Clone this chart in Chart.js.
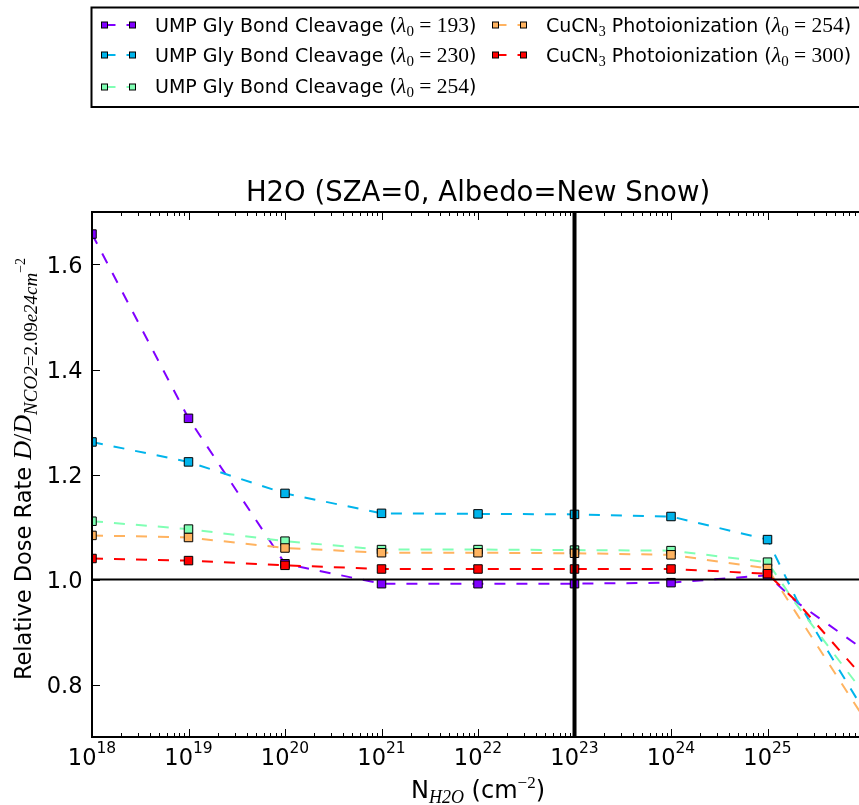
<!DOCTYPE html>
<html>
<head>
<meta charset="utf-8">
<title>H2O relative dose rate</title>
<script src="https://cdn.jsdelivr.net/npm/chart.js@4.4.1/dist/chart.umd.min.js"></script>
<style>
  body { margin: 0; background: #fff; overflow: hidden; }
  #plot { display: block; }
</style>
</head>
<body>
<canvas id="plot" width="859" height="805"></canvas>
<script>
// H2O column density (cm^-2) and dose rate relative to N_CO2 = 2.09e24
const columnH2O = [1e18, 1e19, 1e20, 1e21, 1e22, 1e23, 1e24, 1e25, 2e25, 1e26];
const umpGly193 = [1.658, 1.307, 1.030, 0.992, 0.992, 0.992, 0.994, 1.008, 0.957, 0.866];
const umpGly230 = [1.262, 1.224, 1.164, 1.126, 1.125, 1.124, 1.120, 1.076, 0.962, 0.750];
const umpGly254 = [1.111, 1.096, 1.073, 1.057, 1.057, 1.056, 1.055, 1.033, 0.952, 0.783];
const cucn3_254 = [1.084, 1.080, 1.060, 1.051, 1.051, 1.050, 1.047, 1.021, 0.935, 0.736];
const cucn3_300 = [1.040, 1.036, 1.027, 1.020, 1.020, 1.020, 1.020, 1.011, 0.958, 0.812];

const xTickExps = [18, 19, 20, 21, 22, 23, 24, 25];
const yTickVals = [0.8, 1.0, 1.2, 1.4, 1.6];

const seriesLabels = [
  ['UMP Gly Bond Cleavage', '', '193'],
  ['UMP Gly Bond Cleavage', '', '230'],
  ['UMP Gly Bond Cleavage', '', '254'],
  ['CuCN', '3', '254'],
  ['CuCN', '3', '300']
];
const seriesValues = [umpGly193, umpGly230, umpGly254, cucn3_254, cucn3_300];
const seriesColors = ['#8000ff', '#00b4eb', '#80ffb4', '#ffb360', '#ff0000'];

const SANS = "'DejaVu Sans'";
const SERIF = "'Liberation Serif'";
const DASH = [11, 11];

// markers only on the decade points
const markerRadii = columnH2O.map(v => (v <= 1e25 ? 6 : 0));

// draw a run of text pieces: [text, font, dy]
function textRun(ctx, parts, x, y, align) {
  let w = 0;
  parts.forEach(p => { ctx.font = p[1]; w += ctx.measureText(p[0]).width; });
  let cx = align === 'center' ? x - w / 2 : (align === 'right' ? x - w : x);
  parts.forEach(p => {
    ctx.font = p[1];
    ctx.fillText(p[0], cx, y + (p[2] || 0));
    cx += ctx.measureText(p[0]).width;
  });
  return w;
}

function seg(ctx, x0, y0, x1, y1) {
  ctx.beginPath();
  ctx.moveTo(x0, y0);
  ctx.lineTo(x1, y1);
  ctx.stroke();
}

function square(ctx, x, y, side, color) {
  ctx.fillStyle = color;
  ctx.fillRect(x - side / 2, y - side / 2, side, side);
  ctx.strokeStyle = '#000';
  ctx.lineWidth = 1;
  ctx.strokeRect(x - side / 2, y - side / 2, side, side);
}

const decorations = {
  id: 'decorations',
  afterDatasetsDraw(chart) {
    const { ctx, chartArea: a, scales: { x, y } } = chart;
    ctx.save();
    ctx.strokeStyle = '#000';
    ctx.fillStyle = '#000';
    ctx.setLineDash([]);

    // reference lines at 1.0 and 1e23
    ctx.lineWidth = 2;
    const y1 = y.getPixelForValue(1.0);
    seg(ctx, a.left, y1, a.right, y1);
    ctx.lineWidth = 4;
    const x23 = x.getPixelForValue(1e23);
    seg(ctx, x23, a.top, x23, a.bottom);

    // spines
    ctx.lineWidth = 2;
    seg(ctx, a.left, a.top - 1, a.left, a.bottom + 1);
    seg(ctx, a.left, a.top, a.right, a.top);
    seg(ctx, a.left, a.bottom, a.right, a.bottom);

    // x ticks, pointing inwards on top and bottom
    ctx.lineWidth = 1;
    xTickExps.forEach(e => {
      for (let m = 1; m <= 9; m++) {
        const v = m * Math.pow(10, e);
        if (v > x.max) break;
        const px = Math.round(x.getPixelForValue(v)) + 0.5;
        const len = m === 1 ? 8 : 4;
        seg(ctx, px, a.bottom, px, a.bottom - len);
        seg(ctx, px, a.top, px, a.top + len);
      }
    });
    // y ticks
    yTickVals.forEach(v => {
      const py = Math.round(y.getPixelForValue(v)) + 0.5;
      seg(ctx, a.left, py, a.left + 8, py);
    });

    // tick labels
    ctx.textAlign = 'left';
    ctx.textBaseline = 'alphabetic';
    xTickExps.forEach(e => {
      const px = x.getPixelForValue(Math.pow(10, e));
      textRun(ctx, [['10', '22.5px ' + SANS], [String(e), '15.5px ' + SANS, -12]], px, 765, 'center');
    });
    yTickVals.forEach(v => {
      const py = y.getPixelForValue(v);
      textRun(ctx, [[v.toFixed(1), '22.5px ' + SANS]], a.left - 9.5, py + 8, 'right');
    });

    // title and axis titles, centred on the full decade range
    const cx = (a.left + x.getPixelForValue(1e26)) / 2;
    textRun(ctx, [['H2O (SZA=0, Albedo=New Snow)', '27.5px ' + SANS]], cx, 201, 'center');
    textRun(ctx, [
      ['N', '24px ' + SANS],
      ['H2O', 'italic 18px ' + SERIF, 5],
      [' (cm', '24px ' + SANS],
      ['\u22122', '17px ' + SERIF, -10],
      [')', '24px ' + SANS]
    ], cx, 798, 'center');

    ctx.save();
    ctx.translate(31, 469);
    ctx.rotate(-Math.PI / 2);
    textRun(ctx, [
      ['Relative Dose Rate ', '22.5px ' + SANS],
      ['D', 'italic 26px ' + SERIF],
      ['/', '26px ' + SERIF],
      ['D', 'italic 26px ' + SERIF],
      ['NCO2', 'italic 19px ' + SERIF, 6],
      ['=', '19px ' + SERIF, 6],
      ['2.09', '19px ' + SERIF, 6],
      ['e24cm', 'italic 19px ' + SERIF, 6],
      ['\u22122', '14px ' + SERIF, -6]
    ], 0, 0, 'center');
    ctx.restore();

    // legend frame: top, left and bottom edges; the right edge lies off the page
    ctx.lineWidth = 2;
    ctx.beginPath();
    ctx.moveTo(chart.width + 20, 7.5);
    ctx.lineTo(91.5, 7.5);
    ctx.lineTo(91.5, 107);
    ctx.lineTo(chart.width + 20, 107);
    ctx.stroke();
    const rows = [25, 55, 87];
    const baselines = [31.7, 61.7, 93.3];
    seriesLabels.forEach((lab, i) => {
      const col = i < 3 ? 0 : 1;
      const row = i < 3 ? i : i - 3;
      const hx = col === 0 ? 104.5 : 495.5;
      const ry = rows[row];
      ctx.strokeStyle = seriesColors[i];
      ctx.lineWidth = 2;
      ctx.setLineDash(DASH);
      seg(ctx, hx, ry, hx + 28, ry);
      ctx.setLineDash([]);
      square(ctx, hx, ry, 6, seriesColors[i]);
      square(ctx, hx + 28, ry, 6, seriesColors[i]);
      ctx.fillStyle = '#000';
      const parts = [[lab[0], '19px ' + SANS]];
      if (lab[1]) parts.push([lab[1], '14px ' + SERIF, 4]);
      parts.push(
        [(lab[1] ? ' Photoionization' : '') + ' (', '19px ' + SANS],
        ['\u03bb', 'italic 22px ' + SERIF],
        ['0', '15px ' + SERIF, 4],
        [' = ', '21.5px ' + SERIF],
        [lab[2], '21.5px ' + SERIF],
        [')', '19px ' + SANS]
      );
      textRun(ctx, parts, col === 0 ? 155 : 546, baselines[row], 'left');
    });
    ctx.restore();
  }
};

const datasets = seriesValues.map((vals, i) => ({
  label: seriesLabels[i].join(' '),
  data: columnH2O.map((n, j) => ({ x: n, y: vals[j] })),
  borderColor: seriesColors[i],
  borderWidth: 2,
  borderDash: DASH,
  fill: false,
  tension: 0,
  pointStyle: 'rect',
  pointRadius: markerRadii,
  pointBackgroundColor: seriesColors[i],
  pointBorderColor: '#000',
  pointBorderWidth: 1,
  order: seriesValues.length - i
}));

new Chart(document.getElementById('plot'), {
  type: 'line',
  data: { datasets: datasets },
  options: {
    responsive: false,
    animation: false,
    devicePixelRatio: 1,
    layout: { autoPadding: false, padding: { top: 212, left: 0, right: 0, bottom: 0 } },
    plugins: { legend: { display: false }, tooltip: { enabled: false } },
    scales: {
      x: {
        type: 'logarithmic',
        min: 1e18,
        max: 8.87e25,
        grid: { display: false },
        border: { display: false },
        ticks: { display: false },
        afterFit(s) { s.height = 68; }
      },
      y: {
        min: 0.7,
        max: 1.7,
        grid: { display: false },
        border: { display: false },
        ticks: { display: false },
        afterFit(s) { s.width = 92; }
      }
    }
  },
  plugins: [decorations]
});
</script>
</body>
</html>
